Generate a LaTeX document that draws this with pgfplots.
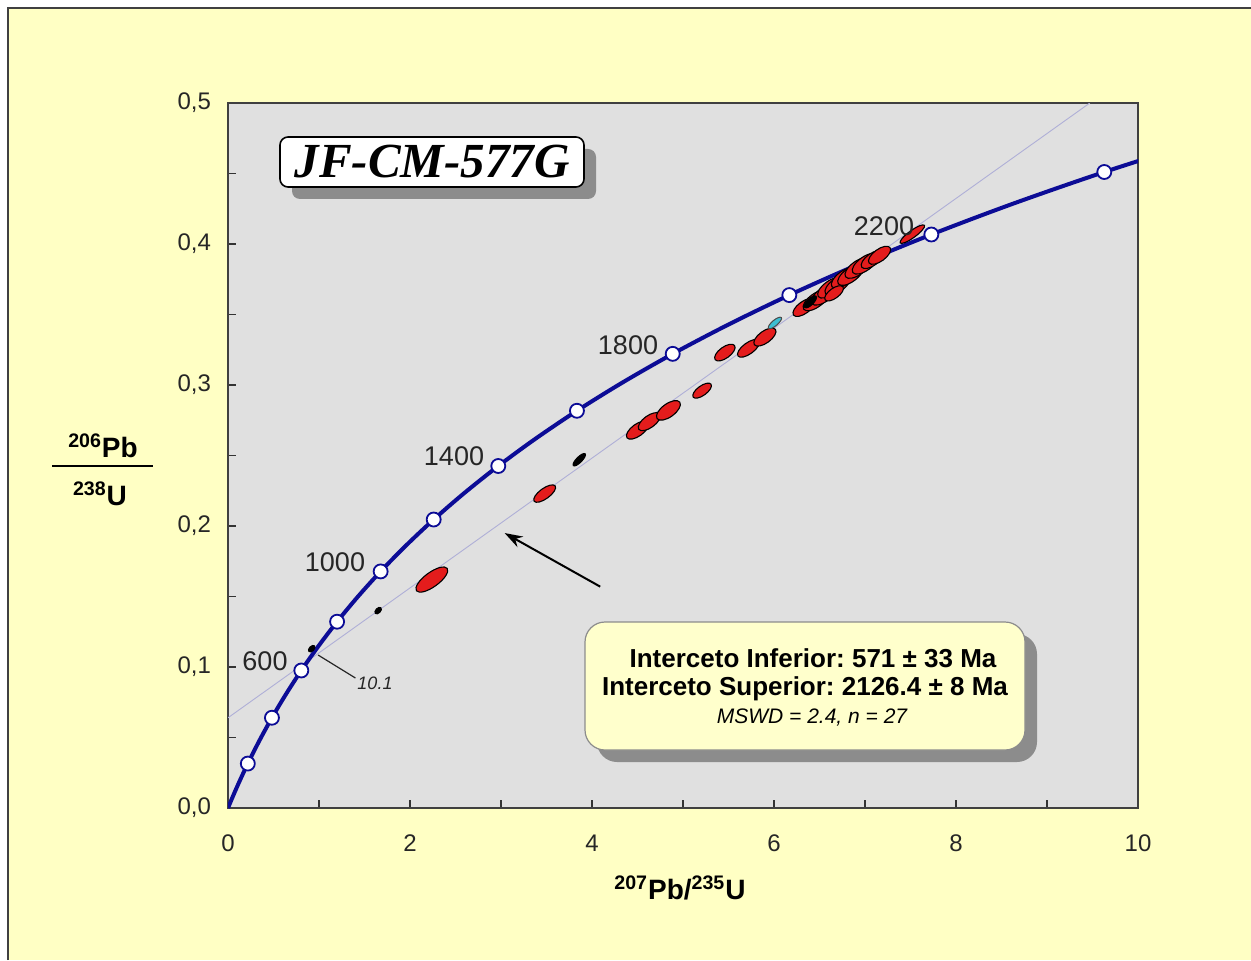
\documentclass[border=0pt]{standalone}
\usepackage{pgfplots}
\pgfplotsset{compat=1.18}
\usepackage{pgfplotstable}
\usepackage{fontspec}
\setmainfont{Liberation Sans}
\newfontfamily\tnr{Liberation Serif}
\usetikzlibrary{arrows.meta,shadows}
\frenchspacing

\definecolor{bgyellow}{RGB}{255,255,196}
\definecolor{plotgray}{RGB}{224,224,224}
\definecolor{concblue}{RGB}{12,12,150}
\definecolor{discord}{RGB}{175,175,215}
\definecolor{ellred}{RGB}{228,28,28}
\definecolor{ellcyan}{RGB}{60,190,210}
\definecolor{boxyellow}{RGB}{255,255,204}

\pgfdeclareplotmark{ell}{\pgfpathellipse{\pgfpointorigin}{\pgfpoint{\ea pt}{0pt}}{\pgfpoint{0pt}{\eb pt}}\pgfusepathqfillstroke}

% concordia curve (age in Ma, 207Pb/235U, 206Pb/238U)
\pgfplotstableread{
t x y
0 0 0
50 0.05048 0.007786
100 0.10350 0.01563
150 0.15920 0.02354
200 0.21771 0.03151
300 0.34374 0.04764
400 0.48281 0.06402
500 0.63628 0.08065
600 0.80563 0.09754
700 0.99251 0.11470
800 1.19873 0.13213
900 1.42630 0.14983
1000 1.67741 0.16780
1100 1.95452 0.18606
1200 2.26030 0.20460
1300 2.59774 0.22343
1400 2.97009 0.24256
1500 3.38099 0.26199
1600 3.83441 0.28172
1700 4.33477 0.30175
1800 4.88691 0.32210
1900 5.49618 0.34277
2000 6.16853 0.36377
2100 6.91046 0.38509
2200 7.72916 0.40674
2300 8.63262 0.42873
2400 9.62957 0.45107
2500 10.72971 0.47375
}\concordia

\pgfplotstableread{
t x y
200 0.21771 0.03151
400 0.48281 0.06402
600 0.80563 0.09754
800 1.19873 0.13213
1000 1.67741 0.16780
1200 2.26030 0.20460
1400 2.97009 0.24256
1600 3.83441 0.28172
1800 4.88691 0.32210
2000 6.16853 0.36377
2200 7.72916 0.40674
2400 9.62957 0.45107
}\agemarks

\pgfplotstableread{
x y
0 0.064
9.47 0.5
}\discordia

\pgfplotstableread{
x y a b
2.24 0.162 9.5 3.6
3.48 0.223 6.5 2.6
4.50 0.268 6.5 3
4.63 0.274 6.5 3
4.84 0.282 7 3.3
5.21 0.296 5.5 2.4
5.46 0.323 6 2.8
5.72 0.326 6.5 2.8
5.90 0.334 6.5 3
6.33 0.355 6.5 3
6.46 0.360 7.5 3.4
6.55 0.364 7.5 3.4
6.62 0.369 7.5 3.4
6.70 0.371 7.5 3.4
6.77 0.376 7.5 3.4
6.84 0.378 7.5 3.4
6.92 0.383 7.5 3.4
7.00 0.386 7.5 3.4
7.08 0.389 6.5 3
7.16 0.392 6.5 3
6.66 0.365 5.5 2.5
7.52 0.407 7.5 1.8
}\redell

\pgfplotstableread{
x y a b
0.92 0.113 2 1.2
1.65 0.140 2 1.2
3.86 0.247 4.2 1.4
6.40 0.359 4 1.6
}\blackell

\pgfplotstableread{
x y a b
6.01 0.344 4.2 1.4
}\cyanell

\begin{document}
\begin{tikzpicture}
\useasboundingbox (0,0) rectangle (625.5pt,480pt);
\fill[white] (0,0) rectangle (625.5pt,480pt);
\fill[bgyellow] (4pt,0) rectangle (625.5pt,476pt);
\draw[black!75, line width=1.2pt] (4pt,0) -- (4pt,476pt) -- (625.5pt,476pt);

\begin{axis}[
  at={(114pt,76pt)}, anchor=south west,
  scale only axis, width=455pt, height=352.5pt,
  xmin=0, xmax=10, ymin=0, ymax=0.5,
  axis background/.style={fill=plotgray},
  axis line style={black!75, line width=1pt},
  xtick={0,2,4,6,8,10}, minor xtick={1,3,5,7,9},
  ytick={0,0.1,0.2,0.3,0.4,0.5}, minor ytick={0.05,0.15,0.25,0.35,0.45},
  tick pos=left, tick align=inside,
  major tick length=4pt, minor tick length=4pt,
  every tick/.style={black!80, line width=0.6pt},
  yticklabel style={/pgf/number format/.cd, fixed, fixed zerofill, precision=1, use comma, /tikz/.cd, xshift=-5pt},
  xticklabel style={yshift=-10pt},
  ticklabel style={font=\fontsize{12}{14}\selectfont, text=black!85},
  /pgf/number format/assume math mode=true,
  clip=true,
]
% discordia
\addplot[discord, line width=0.45pt] table[x=x, y=y] {\discordia};
% concordia
\addplot[concblue, line width=2pt, smooth, tension=0.5] table[x=x, y=y] {\concordia};
% data ellipses
\addplot[only marks, mark=ell, visualization depends on={\thisrow{a} \as \ea},
  visualization depends on={\thisrow{b} \as \eb},
  mark options={rotate=36, fill=ellred, draw=black, line width=0.55pt}] table[x=x, y=y] {\redell};
\addplot[only marks, mark=ell, visualization depends on={\thisrow{a} \as \ea},
  visualization depends on={\thisrow{b} \as \eb},
  mark options={rotate=45, fill=black, draw=black, line width=0.5pt}] table[x=x, y=y] {\blackell};
\addplot[only marks, mark=ell, visualization depends on={\thisrow{a} \as \ea},
  visualization depends on={\thisrow{b} \as \eb},
  mark options={rotate=40, fill=ellcyan, draw=black!70, line width=0.5pt}] table[x=x, y=y] {\cyanell};
% age markers
\addplot[only marks, mark=*, mark size=3.5pt, mark options={fill=white, draw=concblue, line width=0.9pt}] table[x=x, y=y] {\agemarks};
% leader and arrow
\draw[black!85, line width=0.6pt] (axis cs:0.99,0.1085) -- (axis cs:1.40,0.0922);
\draw[black, line width=1pt, -{Stealth[length=9pt, width=6pt]}] (axis cs:4.09,0.157) -- (axis cs:3.04,0.195);
\end{axis}

% age labels
\begin{scope}[every node/.style={font=\fontsize{13.5}{15}\selectfont, text=black!85, inner sep=0pt}]
\node at (132.5pt,149.5pt) {600};
\node at (167.5pt,199pt) {1000};
\node at (227pt,252pt) {1400};
\node at (314pt,307.5pt) {1800};
\node at (442pt,367pt) {2200};
\end{scope}
\node[font=\fontsize{9}{10}\selectfont\itshape, text=black!85, inner sep=0pt] at (187.5pt,138.5pt) {10.1};

% title box
\node[draw=black, line width=0.8pt, fill=white, rounded corners=4pt, minimum width=152pt, minimum height=25pt, inner sep=0pt,
  drop shadow={shadow xshift=6pt, shadow yshift=-6pt, fill=black!45, opacity=1}]
  at (216pt,399pt) {\tnr\bfseries\itshape\fontsize{24.5}{27}\selectfont JF-CM-577G};

% info box
\node[draw=black!45, line width=0.6pt, fill=boxyellow, rounded corners=10pt, minimum width=220pt, minimum height=64pt, inner sep=0pt,
  drop shadow={shadow xshift=6pt, shadow yshift=-6pt, fill=black!45, opacity=1}]
  at (402.5pt,137pt) {};
\node[font=\bfseries\fontsize{13}{15}\selectfont, inner sep=0pt] at (406.5pt,151pt) {Interceto Inferior: 571 ± 33 Ma};
\node[font=\bfseries\fontsize{13}{15}\selectfont, inner sep=0pt] at (402.5pt,135.5pt) {Interceto Superior: 2126.4 ± 8 Ma};
\node[font=\itshape\fontsize{10.5}{12}\selectfont, inner sep=0pt] at (406pt,121pt) {MSWD = 2.4, n = 27};

% axis labels
\node[font=\bfseries\fontsize{14}{16}\selectfont, inner sep=0pt] at (51.5pt,257pt) {\textsuperscript{206}Pb};
\draw[black, line width=1.2pt] (26pt,247pt) -- (76.5pt,247pt);
\node[font=\bfseries\fontsize{14}{16}\selectfont, inner sep=0pt] at (50pt,233pt) {\textsuperscript{238}U};
\node[font=\bfseries\fontsize{14}{16}\selectfont, inner sep=0pt] at (340pt,36pt) {\textsuperscript{207}Pb/\textsuperscript{235}U};
\end{tikzpicture}
\end{document}
